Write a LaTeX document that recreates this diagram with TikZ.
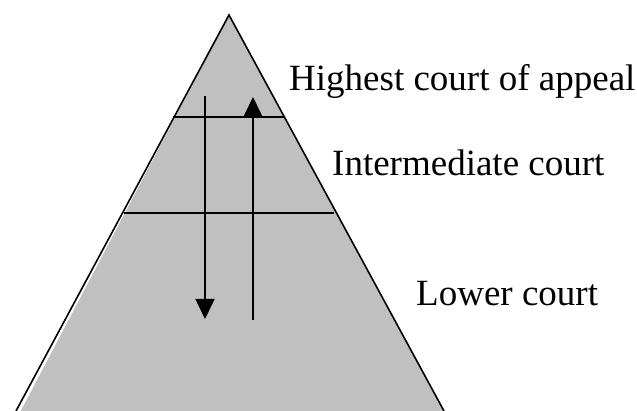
\documentclass[tikz,border=0pt]{standalone}
\usepackage{fontspec}
\setmainfont{Liberation Serif}
\usetikzlibrary{arrows.meta}
\begin{document}
\begin{tikzpicture}[x=1pt,y=-1pt,
  edge/.style={line width=1.6pt},
  arr/.style={line width=1.6pt,-{Triangle[length=20pt,width=19pt]}},
  lbl/.style={anchor=base west,inner sep=0pt,font=\fontsize{37}{44}\selectfont}]
\useasboundingbox (0,0) rectangle (637,411);
\begin{scope}
\clip (0,0) rectangle (637,411);
\coordinate (apex) at (229,15);
\coordinate (bl) at (16,411);
\coordinate (br) at (444,411);
\fill[fill={rgb,255:red,192;green,192;blue,192}] (16,420) -- (apex) -- (br) -- (444,420) -- cycle;
\draw[edge,line join=miter] (bl) -- (apex) -- (br);
\end{scope}
\coordinate (l1a) at (173,117);
\coordinate (l1b) at (285,117);
\coordinate (l2a) at (124,213);
\coordinate (l2b) at (334,213);
\draw[edge] (l1a) -- (l1b);
\draw[edge] (l2a) -- (l2b);
\coordinate (d1) at (205,96);
\coordinate (d2) at (205,319);
\coordinate (u1) at (253,320);
\coordinate (u2) at (253,97);
\draw[arr] (d1) -- (d2);
\draw[arr] (u1) -- (u2);
\node[lbl] (t1) at (289,91) {Highest court of appeal};
\node[lbl] (t2) at (332,176) {Intermediate court};
\node[lbl] (t3) at (416,306) {Lower court};
\end{tikzpicture}
\end{document}
